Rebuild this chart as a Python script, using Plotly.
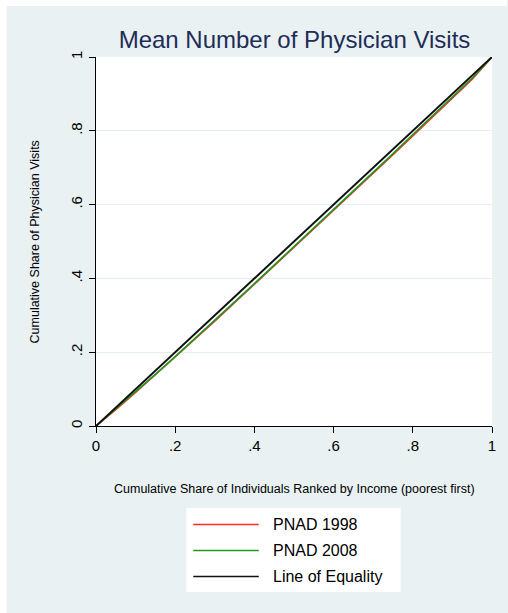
import plotly.graph_objects as go

# ---- data ----
cum_pop = [0, .05, .10, .15, .20, .25, .30, .35, .40, .45, .50,
           .55, .60, .65, .70, .75, .80, .85, .90, .95, 1.0]
pnad_1998 = [0, .044, .091, .139, .187, .235, .284, .334, .384, .434, .484,
             .533, .583, .634, .685, .735, .786, .837, .888, .940, 1.0]
pnad_2008 = [0, .046, .093, .140, .188, .237, .286, .336, .386, .436, .486,
             .536, .586, .636, .687, .738, .790, .841, .892, .943, 1.0]
equality = [0, 1]
equality_x = [0, 1]

tick_vals = [0, .2, .4, .6, .8, 1]
tick_text = ["0", ".2", ".4", ".6", ".8", "1"]

series_names = ["PNAD 1998", "PNAD 2008", "Line of Equality"]
series_colors = ["#FF2A2A", "#1E9A1E", "#111111"]
series_widths = [1.6, 1.6, 2.0]

W, H = 508, 613
L, R, T, B = 96, 13, 57, 187
PW, PH = W - L - R, H - T - B
FONT = "Liberation Sans, Arial, sans-serif"
BG = "#E9F1F3"


def px(x):
    return (x - L) / PW


def py(y):
    return (H - B - y) / PH


fig = go.Figure()
xs = [cum_pop, cum_pop, equality_x]
ys = [pnad_1998, pnad_2008, equality]
for name, color, w, x, y in zip(series_names, series_colors, series_widths, xs, ys):
    fig.add_trace(go.Scatter(x=x, y=y, mode="lines", name=name,
                             line=dict(color=color, width=w), showlegend=False))

shapes = [
    # white border strips on top and left
    dict(type="rect", xref="paper", yref="paper", x0=px(-2), x1=px(W + 2),
         y0=py(6), y1=py(-2), fillcolor="white", line=dict(width=0), layer="below"),
    dict(type="rect", xref="paper", yref="paper", x0=px(-2), x1=px(6),
         y0=py(H + 2), y1=py(-2), fillcolor="white", line=dict(width=0), layer="below"),
    # white plot region
    dict(type="rect", xref="paper", yref="paper", x0=0, x1=1, y0=0, y1=1,
         fillcolor="white", line=dict(width=0), layer="below"),
    # legend box
    dict(type="rect", xref="paper", yref="paper", x0=px(187), x1=px(403),
         y0=py(592), y1=py(508), fillcolor="white", line=dict(width=0), layer="below"),
]
annotations = []
leg_y = [524.5, 550.5, 576.5]
for name, color, yy in zip(series_names, series_colors, leg_y):
    shapes.append(dict(type="line", xref="paper", yref="paper", x0=px(194), x1=px(260),
                       y0=py(yy), y1=py(yy), line=dict(color=color, width=1.3)))
    annotations.append(dict(text=name, xref="paper", yref="paper", x=px(272), y=py(yy),
                            xanchor="left", yanchor="middle", showarrow=False,
                            font=dict(family=FONT, size=16, color="black")))

annotations.append(dict(text="Cumulative Share of Individuals Ranked by Income (poorest first)",
                        xref="paper", yref="paper", x=px(296), y=py(489),
                        xanchor="center", yanchor="middle", showarrow=False,
                        font=dict(family=FONT, size=12.5, color="black")))
annotations.append(dict(text="Cumulative Share of Physician Visits",
                        xref="paper", yref="paper", x=px(35), y=py(242),
                        xanchor="center", yanchor="middle", showarrow=False, textangle=-90,
                        font=dict(family=FONT, size=12.5, color="black")))

axis_common = dict(range=[0, 1], tickvals=tick_vals, ticktext=tick_text,
                   showline=True, linecolor="black", linewidth=1,
                   ticks="outside", ticklen=6, tickcolor="black", tickwidth=1,
                   zeroline=False, tickfont=dict(family=FONT, size=15, color="black"))

fig.update_layout(
    width=W, height=H,
    margin=dict(l=L, r=R, t=T, b=B, pad=0),
    paper_bgcolor=BG, plot_bgcolor="rgba(0,0,0,0)",
    title=dict(text="Mean Number of Physician Visits", x=px(296), xref="paper",
               xanchor="center", y=1 - 40 / H, yref="container", yanchor="middle",
               font=dict(family=FONT, size=24, color="#1F2D57")),
    xaxis=dict(**axis_common, showgrid=False, ticklabelstandoff=0),
    yaxis=dict(**axis_common, showgrid=True, gridcolor="#E4EDF0", gridwidth=1,
               tickangle=-90, ticklabelstandoff=1),
    shapes=shapes, annotations=annotations, showlegend=False,
)

fig.write_html("out.html", config={"displayModeBar": False},
               post_script=("document.body.style.margin='0px';"
                            "document.body.style.overflow='hidden';"
                            "document.body.style.background='" + BG + "';"))
